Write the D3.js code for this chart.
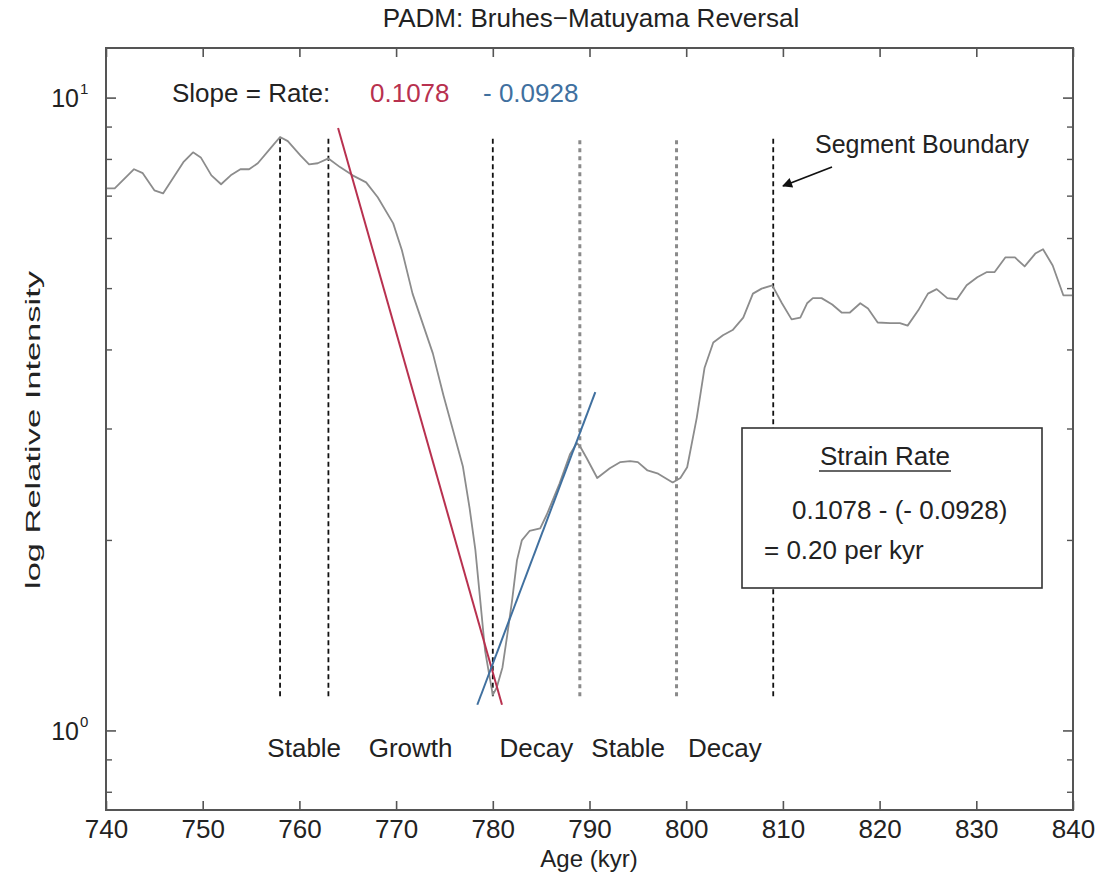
<!DOCTYPE html>
<html><head><meta charset="utf-8">
<script src="https://cdn.jsdelivr.net/npm/d3@7"></script>
<style>
body{margin:0;background:#fff;}
text{font-family:"Liberation Sans",Arial,Helvetica,sans-serif;fill:#222;}
</style></head>
<body><svg id="chart" width="1095" height="875"></svg>
<script>
// ---- data ----
const ages = [740.1,740.9,742.9,743.8,745.0,745.9,748.0,749.0,749.8,750.9,751.9,752.9,753.9,754.8,755.7,757.0,758.0,758.8,760.1,761.0,761.9,763.0,764.2,765.5,766.9,768.1,769.7,770.6,771.7,773.8,774.9,775.9,776.9,777.6,778.2,778.7,779.2,779.7,780.0,780.4,781.0,781.5,782.0,782.5,783.0,783.8,784.9,785.6,786.9,788.0,788.7,789.0,789.7,790.8,792.1,793.2,794.2,795.0,796.0,797.1,798.6,799.4,800.1,801.1,801.9,802.8,803.8,804.8,805.9,806.9,807.8,808.9,809.9,810.9,811.8,812.5,813.1,814.0,815.1,816.1,816.9,818.0,818.8,819.8,821.1,822.1,822.9,824.0,825.0,825.9,827.0,828.0,829.0,830.1,831.1,831.9,833.0,834.0,835.0,836.1,836.9,837.9,839.0,840.0];
const intensity = [7.20,7.20,7.72,7.61,7.15,7.07,7.92,8.21,8.06,7.55,7.31,7.55,7.72,7.72,7.89,8.33,8.68,8.55,8.12,7.86,7.89,8.03,7.78,7.55,7.36,6.97,6.34,5.75,4.91,3.95,3.39,2.98,2.62,2.25,1.93,1.61,1.34,1.21,1.14,1.17,1.26,1.42,1.61,1.86,2.00,2.07,2.09,2.20,2.46,2.74,2.85,2.82,2.70,2.51,2.60,2.66,2.67,2.66,2.58,2.55,2.47,2.51,2.61,3.13,3.75,4.11,4.22,4.30,4.50,4.91,5.00,5.06,4.74,4.47,4.50,4.74,4.83,4.83,4.72,4.58,4.58,4.74,4.65,4.42,4.41,4.41,4.37,4.62,4.91,4.99,4.83,4.81,5.06,5.21,5.31,5.31,5.60,5.60,5.42,5.68,5.77,5.44,4.88,4.88];
const boundaries = [758,763,780,789,799,809];
const boundarySpan = [1.135,8.7];
const regionNames = ["Stable","Growth","Decay","Stable","Decay"];
const growthFitAges = [764.0,780.95];
const growthFitValues = [8.97,1.10];
const decayFitAges = [778.4,790.6];
const decayFitValues = [1.10,3.43];
const xTicks = [740,750,760,770,780,790,800,810,820,830,840];
const yMajor = [1,10];
const yMinor = [0.8,0.9,2,3,4,5,6,7,8,9];
const growthRate = "0.1078";
const decayRate = "- 0.0928";

// ---- layout ----
const svg = d3.select("#chart");
const L=106, R=1073, T=48, B=810;
const x = d3.scaleLinear().domain([740,840]).range([L,R]);
const y = d3.scaleLog().domain([0.75,12]).range([B,T]);
const axisCol="#555";
const FS="26px";

// title
svg.append("text").attr("x",591).attr("y",27).attr("text-anchor","middle")
  .style("font-size",FS).text("PADM: Bruhes\u2212Matuyama Reversal");

const g = svg.append("g");

// boundaries
boundaries.forEach(b=>{
  const gray = (b===789||b===799);
  g.append("line").attr("x1",x(b)).attr("x2",x(b))
   .attr("y1",y(boundarySpan[0])).attr("y2",y(boundarySpan[1]))
   .attr("stroke",gray?"#8a8a8a":"#111").attr("stroke-width",gray?3:1.8)
   .attr("stroke-dasharray",gray?"4,4":"5,3.5");
});

// data curve
g.append("path").datum(ages.map((a,i)=>[a,intensity[i]]))
 .attr("fill","none").attr("stroke","#8c8c8c").attr("stroke-width",1.8)
 .attr("stroke-linejoin","round")
 .attr("d",d3.line().x(d=>x(d[0])).y(d=>y(d[1])));

// fits
g.append("path").datum(growthFitAges.map((a,i)=>[a,growthFitValues[i]]))
 .attr("fill","none").attr("stroke","#b8314f").attr("stroke-width",2)
 .attr("d",d3.line().x(d=>x(d[0])).y(d=>y(d[1])));
g.append("path").datum(decayFitAges.map((a,i)=>[a,decayFitValues[i]]))
 .attr("fill","none").attr("stroke","#40709f").attr("stroke-width",2)
 .attr("d",d3.line().x(d=>x(d[0])).y(d=>y(d[1])));

// region labels centered in segments
regionNames.forEach((n,i)=>{
  const mid=(boundaries[i]+boundaries[i+1])/2;
  svg.append("text").attr("x",x(mid)).attr("y",757).attr("text-anchor","middle")
    .style("font-size",FS).text(n);
});

// slope annotation
svg.append("text").attr("x",172).attr("y",102).style("font-size",FS).text("Slope = Rate:");
svg.append("text").attr("x",370).attr("y",102).style("font-size",FS).style("fill","#b8314f").text(growthRate);
svg.append("text").attr("x",483).attr("y",102).style("font-size",FS).style("fill","#40709f").text(decayRate);

// segment boundary annotation
svg.append("text").attr("x",815).attr("y",153).style("font-size","25px").text("Segment Boundary");
svg.append("defs").append("marker").attr("id","arr").attr("viewBox","0 0 10 10")
 .attr("refX",9).attr("refY",5).attr("markerWidth",14).attr("markerHeight",10)
 .attr("markerUnits","userSpaceOnUse").attr("orient","auto")
 .append("path").attr("d","M0,0 L10,5 L0,10 Z").attr("fill","#111");
svg.append("line").attr("x1",832).attr("y1",167).attr("x2",783).attr("y2",186)
 .attr("stroke","#111").attr("stroke-width",1.8).attr("marker-end","url(#arr)");

// strain-rate box
svg.append("rect").attr("x",742).attr("y",428).attr("width",300).attr("height",160)
 .attr("fill","#fff").attr("stroke","#333").attr("stroke-width",1.6);
svg.append("text").attr("x",885).attr("y",465).attr("text-anchor","middle")
 .style("font-size",FS).text("Strain Rate");
svg.append("line").attr("x1",819).attr("x2",951).attr("y1",471).attr("y2",471).attr("stroke","#333").attr("stroke-width",1.3);
svg.append("text").attr("x",792).attr("y",519).style("font-size",FS).text(growthRate+" - ("+decayRate+")");
svg.append("text").attr("x",764).attr("y",559).style("font-size",FS).text("= 0.20 per kyr");

// axes box
svg.append("rect").attr("x",L).attr("y",T).attr("width",R-L).attr("height",B-T)
 .attr("fill","none").attr("stroke",axisCol).attr("stroke-width",2);

// x ticks (inward, bottom and top)
const xb = svg.append("g").attr("transform",`translate(0,${B})`)
 .call(d3.axisBottom(x).tickValues(xTicks).tickSizeInner(-9).tickSizeOuter(0).tickPadding(10).tickFormat(d3.format("d")));
const xt = svg.append("g").attr("transform",`translate(0,${T})`)
 .call(d3.axisTop(x).tickValues(xTicks).tickSizeInner(-9).tickSizeOuter(0).tickFormat(""));
[xb,xt].forEach(a=>{a.select(".domain").remove();a.selectAll("line").attr("stroke",axisCol).attr("stroke-width",1.6);});
xb.selectAll("text").style("font-size",FS).style("font-family","Liberation Sans, Arial").attr("fill","#222").attr("dy","0.71em");

// y ticks
function yTicks(side){
  const s = side==="left"?1:-1, x0 = side==="left"?L:R;
  yMajor.forEach(v=>svg.append("line").attr("x1",x0).attr("x2",x0+s*10).attr("y1",y(v)).attr("y2",y(v)).attr("stroke",axisCol).attr("stroke-width",1.6));
  yMinor.forEach(v=>svg.append("line").attr("x1",x0).attr("x2",x0+s*6).attr("y1",y(v)).attr("y2",y(v)).attr("stroke",axisCol).attr("stroke-width",1.4));
}
yTicks("left"); yTicks("right");
yMajor.forEach(v=>{
  svg.append("text").attr("x",79).attr("y",y(v)+9).attr("text-anchor","end").style("font-size","25px").text("10");
  svg.append("text").attr("x",80).attr("y",y(v)-4).style("font-size","15px").text(String(Math.round(Math.log10(v))));
});

// axis labels
svg.append("text").attr("x",589).attr("y",867).attr("text-anchor","middle").style("font-size","24px").text("Age (kyr)");
svg.append("text").attr("transform","translate(40,430) rotate(-90)").attr("text-anchor","middle")
 .style("font-size","21px").attr("textLength",318).attr("lengthAdjust","spacingAndGlyphs").text("log Relative Intensity");
</script></body></html>
